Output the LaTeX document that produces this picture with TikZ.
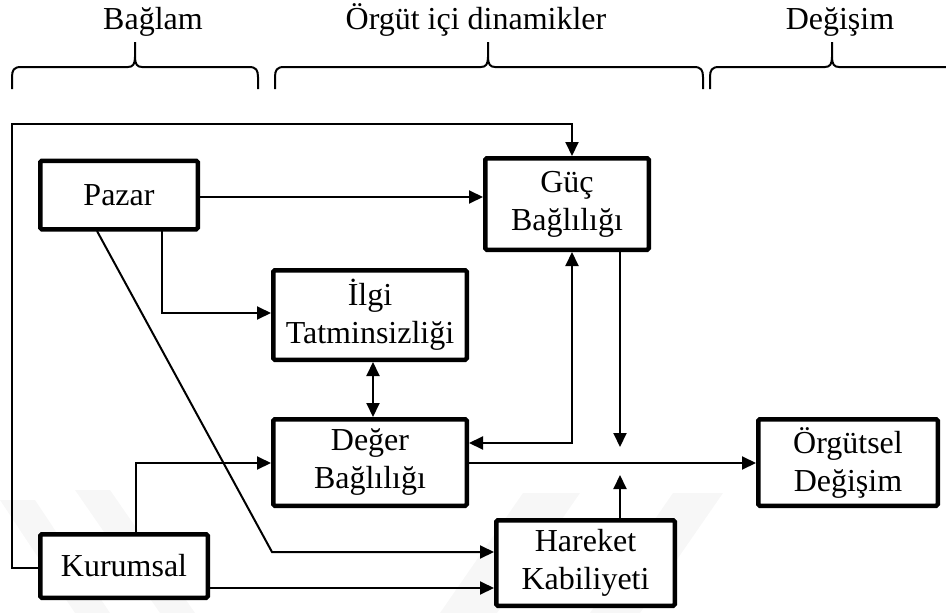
\documentclass[tikz,border=0pt]{standalone}
\usepackage{fontspec}
\setmainfont{Liberation Serif}
\usetikzlibrary{arrows.meta,calc}

\tikzset{
  box/.style={draw, line width=4.5pt, rounded corners=1.5pt, fill=white,
    inner sep=0pt, align=center,
    font=\fontsize{32}{38}\selectfont},
  link/.style={line width=2pt, -{Triangle[length=14pt,width=13pt]}},
  link2/.style={line width=2pt, {Triangle[length=14pt,width=13pt]}-{Triangle[length=14pt,width=13pt]}},
  bracket/.style={line width=2pt},
  heading/.style={anchor=base, inner sep=0pt, font=\fontsize{32}{38}\selectfont},
  stripe/.style={fill=black!3, draw=none}
}

% curly bracket over a column: left end, tip, right end
\newcommand\columnbrace[3]{%
  \draw[bracket] (#1,89) -- (#1,77) .. controls (#1,70) and (#1+2,67) .. (#1+9,67)
    -- (#2-7,67) .. controls (#2-2,67) and (#2,64) .. (#2,57) -- (#2,42);
  \draw[bracket] (#2,57) .. controls (#2,64) and (#2+2,67) .. (#2+7,67)
    -- (#3-9,67) .. controls (#3-2,67) and (#3,70) .. (#3,77) -- (#3,89);
}

\begin{document}
\begin{tikzpicture}[x=1pt, y=-1pt]
\useasboundingbox (0,0) rectangle (946,613);

% faint background stripes
\fill[stripe] (0,500) -- (35,500) -- (110,613) -- (75,613) -- cycle;
\fill[stripe] (75,490) -- (110,490) -- (195,613) -- (160,613) -- cycle;
\fill[stripe] (523,493) -- (580,493) -- (497,613) -- (440,613) -- cycle;
\fill[stripe] (673,493) -- (723,493) -- (640,613) -- (590,613) -- cycle;

% column headings
\node[heading] (hctx) at (153,30) {Bağlam};
\node[heading] (hdyn) at (476,30) {Örgüt içi dinamikler};
\node[heading] (hchg) at (840,30) {Değişim};
\columnbrace{12}{135}{258}
\columnbrace{275}{488}{703}
\columnbrace{710}{832}{980}

% boxes
\node[box, minimum width=157.5pt, minimum height=68.5pt] (pazar) at (119,195) {Pazar};
\node[box, minimum width=163.5pt, minimum height=91.5pt] (guc) at (567,204) {Güç\\Bağlılığı};
\node[box, minimum width=193.5pt, minimum height=89.5pt] (ilgi) at (370,315) {İlgi\\Tatminsizliği};
\node[box, minimum width=193.5pt, minimum height=86.5pt] (deger) at (370,462.5) {Değer\\Bağlılığı};
\node[box, minimum width=179.5pt, minimum height=86.5pt] (orgut) at (848,462.5) {Örgütsel\\Değişim};
\node[box, minimum width=178.5pt, minimum height=85.5pt] (hareket) at (585.5,563) {Hareket\\Kabiliyeti};
\node[box, minimum width=167.5pt, minimum height=63.5pt] (kurum) at (124,566) {Kurumsal};

% junction points beside the central arrows
\coordinate (jtop) at (620,447);
\coordinate (jbot) at (620,475);

% connectors
\draw[link] (pazar.east |- 0,197) -- (guc.west |- 0,197);
\draw[link] (162,231) |- (ilgi.west |- 0,313);
\draw[link] (97,231) -- (272,552) -- (hareket.west |- 0,552);
\draw[link] (kurum.west |- 0,568) -- (12,568) -- (12,124) -| (guc.north -| 572,0);
\draw[link] (kurum.north -| 136,0) |- (deger.west |- 0,463);
\draw[link] (kurum.east |- 0,588) -- (hareket.west |- 0,588);
\draw[link2] (ilgi.south -| 373,0) -- (deger.north -| 373,0);
\draw[link2] (deger.east |- 0,443) -| (guc.south -| 572,0);
\draw[link] (deger.east |- 0,463) -- (orgut.west |- 0,463);
\draw[link] (guc.south -| 620,0) -- (jtop);
\draw[link] (hareket.north -| 620,0) -- (jbot);
\end{tikzpicture}
\end{document}
